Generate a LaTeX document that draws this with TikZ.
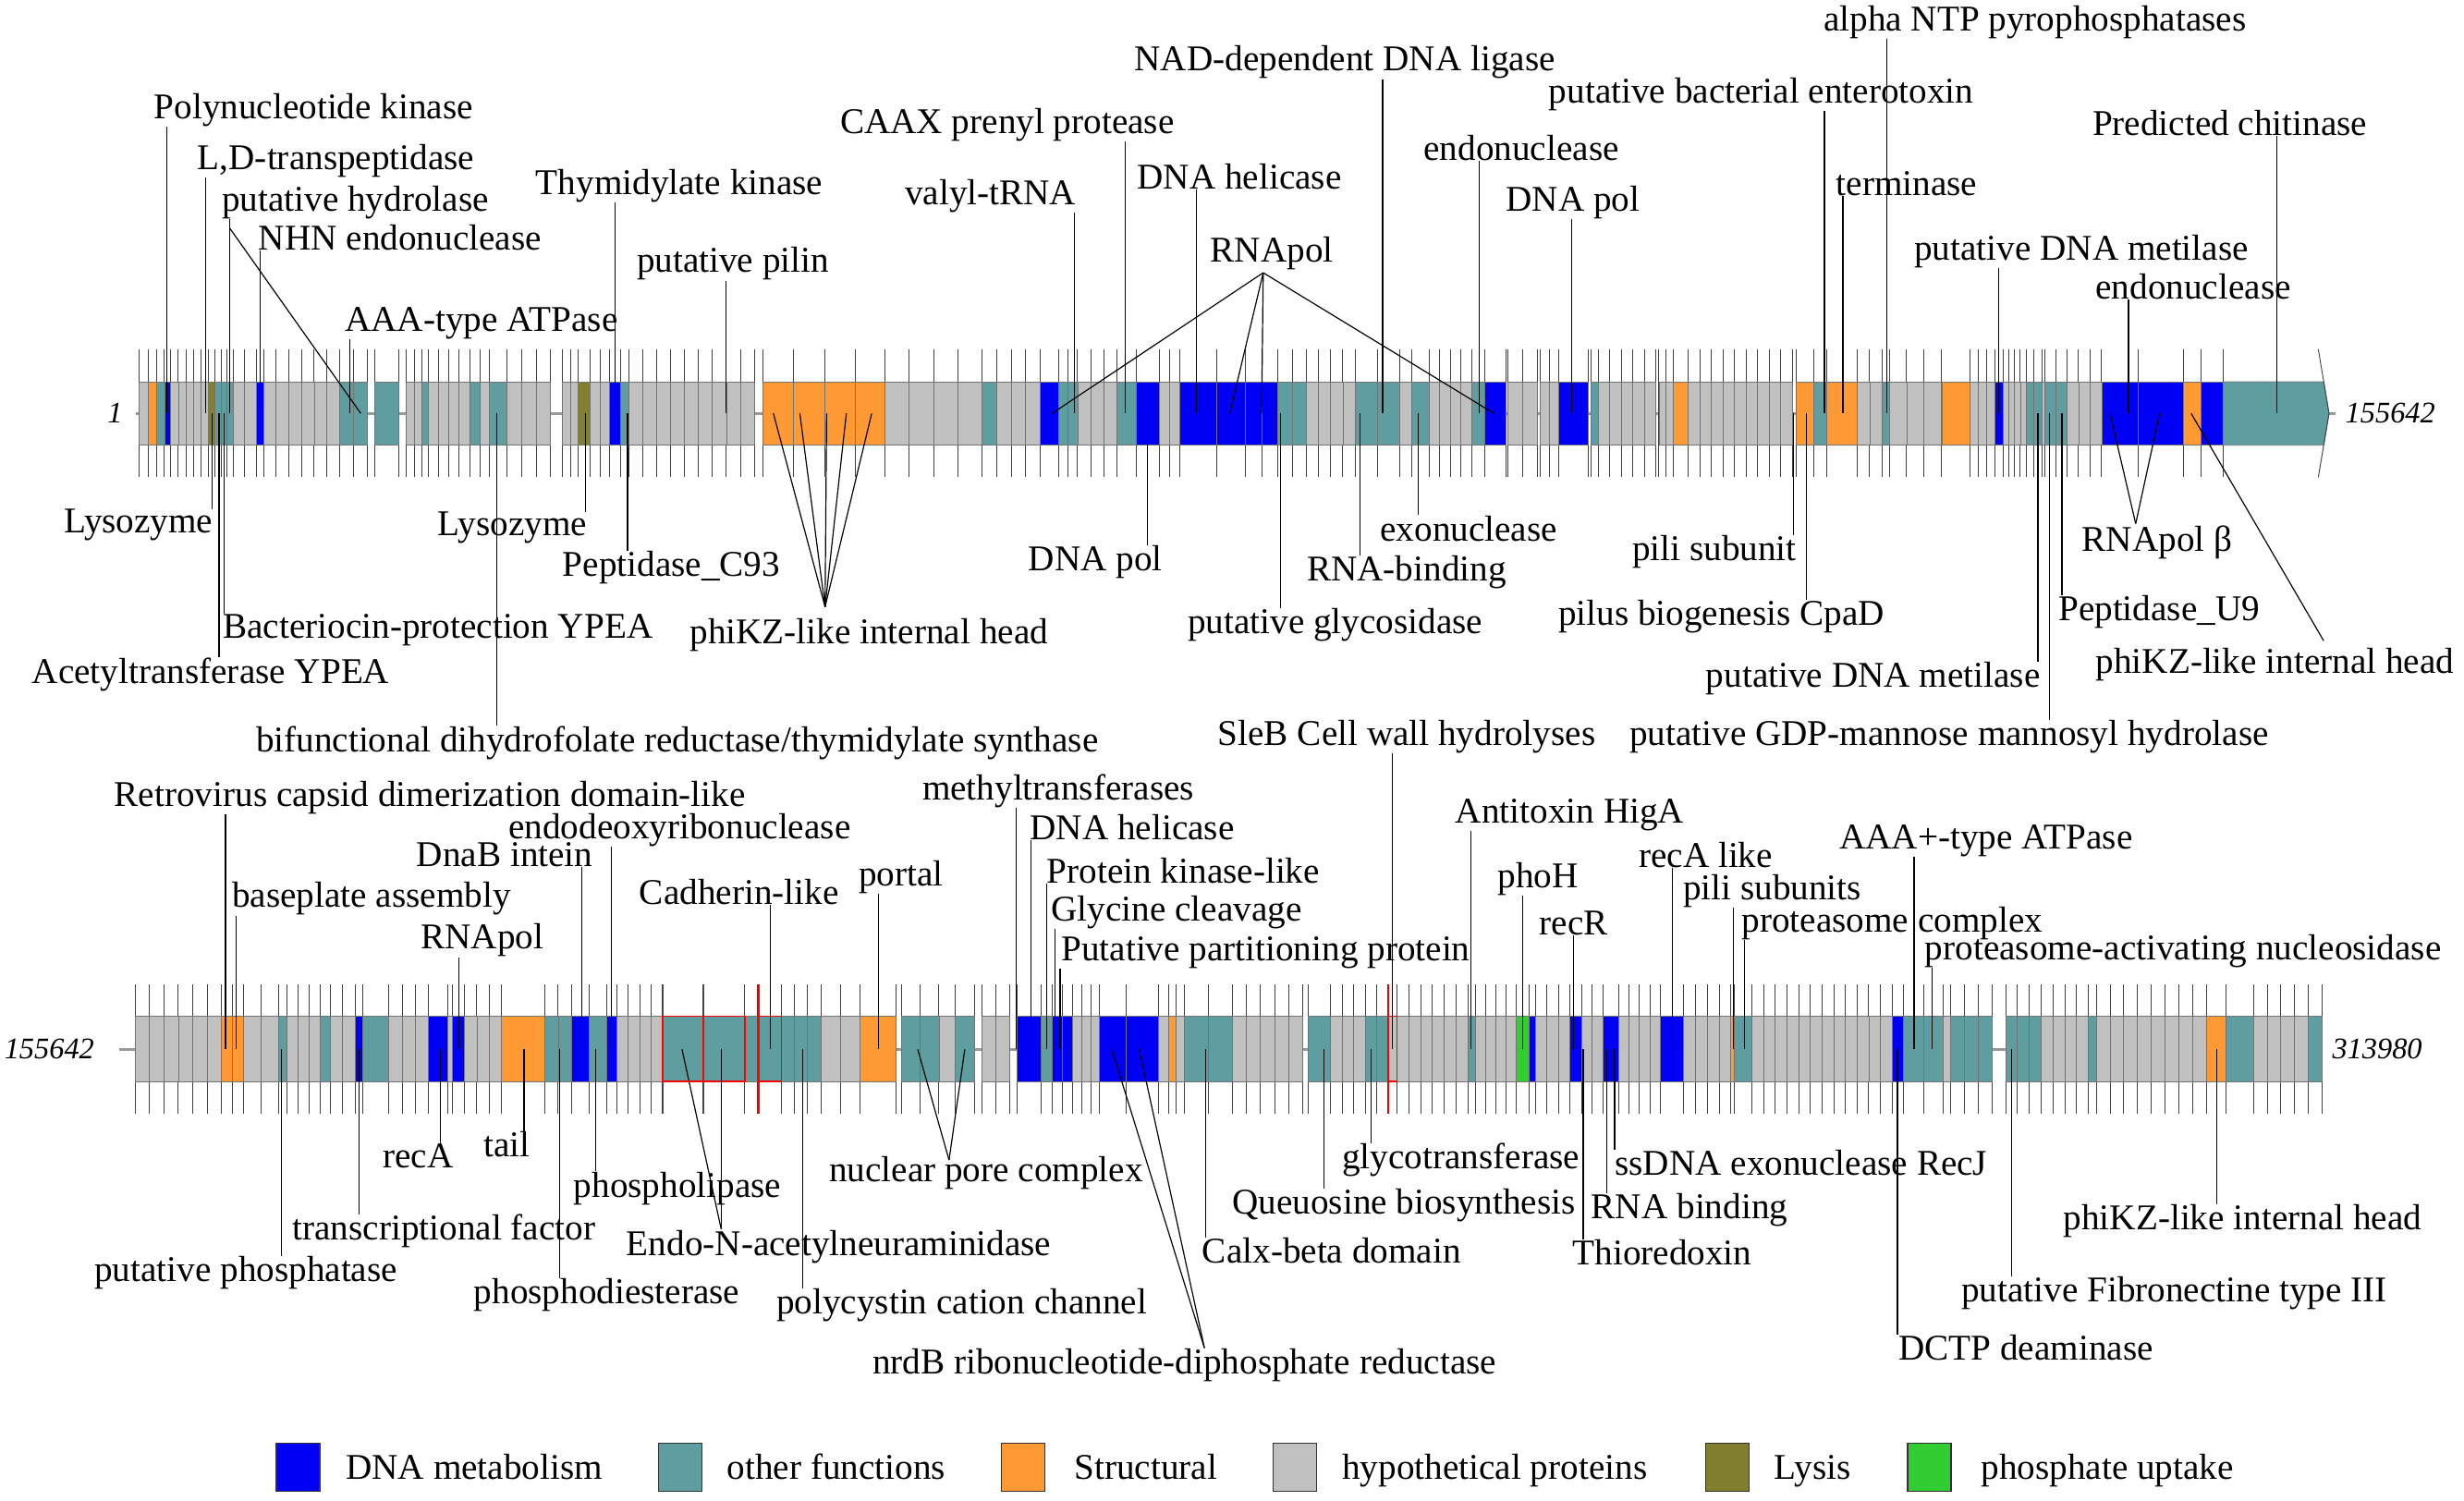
\documentclass[tikz,border=0pt]{standalone}
\usepackage{fontspec}
\setmainfont{Liberation Serif}
\definecolor{dnaB}{RGB}{0,0,245}
\definecolor{othT}{RGB}{95,158,160}
\definecolor{strO}{RGB}{255,153,51}
\definecolor{hypG}{RGB}{192,192,192}
\definecolor{lysL}{RGB}{128,128,48}
\definecolor{phoP}{RGB}{50,205,50}
\tikzset{
  lab/.style={font=\fontsize{23}{27}\selectfont, inner sep=0pt, anchor=base west},
  num/.style={font=\fontsize{19}{22}\selectfont\itshape, inner sep=0pt},
  lead/.style={line width=0.7pt, black},
  tick/.style={line width=0.55pt, black!75},
  gene/.style={draw=black!55, line width=0.5pt},
  axis/.style={line width=1.6pt, black!40},
  redgene/.style={draw=red, line width=0.8pt},
  legbox/.style={draw=black!80, line width=0.8pt, minimum width=27.5pt, minimum height=30.3pt, inner sep=0pt}
}
\begin{document}
\begin{tikzpicture}[x=1pt,y=-1pt]
\path[use as bounding box, fill=white] (0,0) rectangle (1564,952.7);
\def\cA{262.4}
\def\cB{666}
\def\genesA{88/94.3/hypG/1, 94.3/99.3/strO/1, 99.3/104.4/othT/1, 104.4/108.4/dnaB/1,
108.4/132.3/hypG/5, 132.3/136.4/lysL/1, 136.4/148/othT/3, 148/162.6/hypG/2,
162.6/167.3/dnaB/1, 167.3/215.5/hypG/6, 215.5/233.3/othT/2, 238/253/othT/1,
258/268/hypG/2, 268/272/othT/1, 272/298/hypG/4, 298/305/othT/1, 305/310.5/hypG/1,
310.5/322/othT/1, 322/349.5/hypG/3, 357/367/hypG/2, 367/374.7/lysL/1, 374.7/387/hypG/2,
387/394/dnaB/1, 394/399/othT/1, 399/478.8/hypG/9, 484/543/strO/3, 543/561.8/strO/1,
561.8/623.4/hypG/4, 623.4/632.5/othT/1, 632.5/660.4/hypG/3, 660.4/671.9/dnaB/1,
671.9/684/othT/2, 684/709/hypG/3, 709/721.3/othT/1, 721.3/735.8/dnaB/1,
735.8/748.6/hypG/2, 748.6/772.2/dnaB/1, 772.2/790.7/dnaB/1, 790.7/800.8/dnaB/1,
800.8/811/dnaB/1, 811/829.4/othT/2, 829.4/860/hypG/4, 860/888.4/othT/2,
888.4/896/hypG/1, 896/907/othT/1, 907/934/hypG/4, 934/942.2/othT/1,
942.2/955.7/dnaB/1, 957/976/hypG/2, 977.6/989.4/hypG/2, 989.4/1008/dnaB/1,
1009.6/1014.6/othT/1, 1014.6/1051/hypG/5, 1053/1062.3/hypG/2, 1062.3/1071.5/strO/1,
1071.5/1137.6/hypG/9, 1140.3/1151/strO/1, 1151/1159.6/othT/1, 1159.6/1179/strO/1,
1179/1194.5/hypG/2, 1194.5/1199.3/othT/1, 1199.3/1232/hypG/3, 1232.5/1250.5/strO/1,
1250.5/1266.4/hypG/3, 1266.4/1271.5/dnaB/1, 1271.5/1286/hypG/4, 1286/1296/othT/2,
1296/1298/hypG/1, 1298/1312/othT/2, 1312/1334/hypG/3, 1334/1357/dnaB/1,
1357/1385.7/dnaB/1, 1385.7/1397/strO/1, 1397/1411/dnaB/1}
\def\genesB{85.8/140.6/hypG/6, 140.6/154.6/strO/2, 154.6/177/hypG/2, 177/182/othT/1,
182/203.5/hypG/3, 203.5/209.5/othT/1, 209.5/225.4/hypG/2, 225.4/230.4/dnaB/1,
230.4/246.9/othT/1, 246.9/271.8/hypG/3, 271.8/284.3/dnaB/1, 284.3/287/hypG/1,
287/295/dnaB/1, 295/318/hypG/3, 318/345.6/strO/1, 345.6/363/othT/2, 363/374/dnaB/1,
374/385/othT/1, 385/391.5/dnaB/1, 391.5/420.4/hypG/4, 420.4/446.3/othT/1,
446.3/472.8/othT/1, 472.8/481/othT/1, 481/496/othT/1, 496/521/othT/3,
521/546/hypG/2, 546/568.5/strO/1, 572.5/596/othT/2, 596/606/hypG/1,
606/618.4/othT/1, 623.4/640.8/hypG/2, 645.8/660.8/dnaB/1, 660.8/668/othT/1,
668/680.7/dnaB/2, 680.7/698/hypG/3, 698/715/dnaB/1, 715/735.6/dnaB/1,
735.6/741.6/hypG/1, 741.6/746.5/strO/1, 746.5/752/hypG/1, 752/782/othT/2,
782/827/hypG/5, 830.4/844.3/othT/1, 844.3/866.8/hypG/3, 866.8/880.7/othT/2,
880.7/886.7/hypG/1, 886.7/931.6/hypG/6, 931.6/936.6/othT/1, 936.6/962.5/hypG/4,
962.5/970.5/phoP/1, 970.5/974.5/dnaB/1, 974.5/996.4/hypG/3, 996.4/1004/dnaB/1,
1004/1017.4/hypG/2, 1017.4/1027.4/dnaB/1, 1027.4/1053.8/hypG/4, 1053.8/1068.8/dnaB/1,
1068.8/1098.7/hypG/4, 1098.7/1101/strO/1, 1101/1112/othT/1, 1112/1201/hypG/12,
1201/1208.4/dnaB/1, 1208.4/1233.3/othT/2, 1233.3/1238.3/hypG/1, 1238.3/1264.7/othT/3,
1273/1295.6/othT/3, 1295.6/1325.6/hypG/4, 1325.6/1330.6/othT/1, 1330.6/1400.4/hypG/8,
1400.4/1413/strO/1, 1413/1430.3/othT/1, 1430.3/1465.2/hypG/4, 1465.2/1473.7/othT/1}

\node[num] (startA) at (73,\cA) {1};
\node[num, anchor=west] (endA) at (1488.5,\cA) {155642};
\node[num, anchor=east] (startB) at (60,\cB) {155642};
\node[num, anchor=west] (endB) at (1480.2,\cB) {313980};
\coordinate (axA0) at (86,\cA);
\coordinate (axA1) at (1482.4,\cA);
\coordinate (axB0) at (75.8,\cB);
\coordinate (axB1) at (1473.7,\cB);
\draw[axis] (axA0) -- (axA1);
\draw[axis] (axB0) -- (axB1);

\foreach \xa/\xb/\col/\nn in \genesA {
  \pgfmathsetmacro\gw{(\xb-\xa)/\nn}
  \foreach \k in {1,...,\nn}
    \draw[tick] (\xa+\k*\gw-\gw,221.6) -- (\xa+\k*\gw-\gw,303);
  \draw[tick] (\xb,221.6) -- (\xb,303);
}
\foreach \xa/\xb/\col/\nn in \genesA {
  \pgfmathsetmacro\gw{(\xb-\xa)/\nn}
  \foreach \k in {1,...,\nn}
    \draw[gene, fill=\col] (\xa+\k*\gw-\gw,242.3) rectangle (\xa+\k*\gw,282.6);
}
\draw[tick] (1411,221.6) -- (1411,303);
\draw[gene, fill=othT] (1411,242.3) -- (1475,242.3) -- (1478.3,\cA) -- (1475,282.6) -- (1411,282.6) -- cycle;
\draw[tick] (1471.5,221.6) -- (1478.3,\cA) -- (1471.5,303);

\foreach \xa/\xb/\col/\nn in \genesB {
  \pgfmathsetmacro\gw{(\xb-\xa)/\nn}
  \foreach \k in {1,...,\nn}
    \draw[tick] (\xa+\k*\gw-\gw,624.8) -- (\xa+\k*\gw-\gw,707);
  \draw[tick] (\xb,624.8) -- (\xb,707);
}
\foreach \xa/\xb/\col/\nn in \genesB {
  \pgfmathsetmacro\gw{(\xb-\xa)/\nn}
  \foreach \k in {1,...,\nn}
    \draw[gene, fill=\col] (\xa+\k*\gw-\gw,645) rectangle (\xa+\k*\gw,686.4);
}
\foreach \xa/\xb in {420.4/446.3, 446.3/472.8, 481/496, 880.7/886.7} {
  \draw[redgene] (\xa+0.6,624.8) -- (\xa+0.6,707);
  \draw[redgene] (\xa,645) rectangle (\xb,686.4);
}

\foreach \nm/\x/\y/\g/\txt in {pnk/97.6/75.3/106.1/Polynucleotide kinase,
  ldt/125.3/107.6/130.3/{L,D-transpeptidase}, phyd/140.7/134/145.8/putative hydrolase,
  nhn/164/158.4/165/NHN endonuclease, aaa/218.8/210.3/222.2/AAA-type ATPase,
  tmk/340/123.2/390.6/Thymidylate kinase, pil/404/173/460.6/putative pilin,
  caax/533.1/84.5/714.3/CAAX prenyl protease, val/574.2/130/682/valyl-tRNA,
  nad/720/45/877.6/NAD-dependent DNA ligase, hel/721.7/119.7/759.4/DNA helicase,
  endo/903.5/101.7/938.9/endonuclease, pol/955.7/134/997.8/DNA pol,
  ent/983/65.5/1158/putative bacterial enterotoxin, ntp/1157.3/19.6/1197.6/alpha NTP pyrophosphatases,
  ter/1165.4/124.2/1169.8/terminase, chi/1328/85.7/1445/Predicted chitinase,
  met/1214.9/165.3/1268.8/putative DNA metilase, endoB/1330/189.7/1351/endonuclease}{
  \node[lab] (\nm) at (\x,\y) {\txt};
  \coordinate (g\nm) at (\g,\cA);
  \draw[lead] (g\nm) -- (g\nm |- \nm.south);
}
\foreach \nm/\x/\y/\g/\txt in {lysA/40.4/338.3/134.7/Lysozyme,
  bac/141.4/404.8/142.4/Bacteriocin-protection YPEA, act/20.2/433.7/139/Acetyltransferase YPEA,
  lysB/277.8/340.2/371.4/Lysozyme, c93/357/365.7/398.3/Peptidase\_C93,
  dhfr/162.3/477.2/315.5/{bifunctional dihydrofolate reductase/thymidylate synthase},
  polB/652.7/362.2/728.4/DNA pol, gly/753.7/401.9/812.6/putative glycosidase,
  rnab/829.4/368.6/863.1/RNA-binding, exo/875.9/343.2/900.1/exonuclease,
  pili/1035.9/355.9/1138.3/pili subunit, cpad/989/397/1146.7/pilus biogenesis CpaD,
  metB/1082.7/436.1/1293.5/putative DNA metilase,
  gdp/1034.2/473.2/1301/putative GDP-mannose mannosyl hydrolase,
  u9/1306.4/394/1308.8/Peptidase\_U9}{
  \node[lab] (\nm) at (\x,\y) {\txt};
  \coordinate (g\nm) at (\g,\cA);
  \draw[lead] (g\nm) -- (g\nm |- \nm.north);
}
\coordinate (hphyd) at (145.8,144.8);
\coordinate (gphydB) at (229,\cA);
\draw[lead] (hphyd) -- (gphydB);

\node[lab] (rnap) at (768.2,166.3) {RNApol};
\coordinate (hrnap) at (801.8,173.1);
\foreach \g [count=\i] in {667.8,780.6,800.8,948.3}{
  \coordinate (grnap\i) at (\g,\cA);
  \draw[lead] (hrnap) -- (grnap\i);
}
\node[lab] (headA) at (437.7,408.7) {phiKZ-like internal head};
\coordinate (hheadA) at (523.7,385.2);
\foreach \g [count=\i] in {490.9,507.7,524.7,537.2,553.3}{
  \coordinate (gheadA\i) at (\g,\cA);
  \draw[lead] (hheadA) -- (gheadA\i);
}
\node[lab] (rnapb) at (1321.3,350) {RNApol β};
\coordinate (hrnapb) at (1355.6,332.4);
\foreach \g [count=\i] in {1339.3,1370.8}{
  \coordinate (grnapb\i) at (\g,\cA);
  \draw[lead] (hrnapb) -- (grnapb\i);
}
\node[lab] (headB) at (1330.1,427.3) {phiKZ-like internal head};
\coordinate (hheadB) at (1474.9,406.7);
\coordinate (gheadB) at (1390.8,\cA);
\draw[lead] (hheadB) -- (gheadB);

\foreach \nm/\x/\y/\g/\txt in {retro/72.4/512/143.1/Retrovirus capsid dimerization domain-like,
  edr/322.6/532.3/388.2/endodeoxyribonuclease, dnab/264.3/549.9/369.4/DnaB intein,
  base/147.1/576/149.8/baseplate assembly, cad/405.7/574/489.2/Cadherin-like,
  rnapC/267/602.4/291.2/RNApol, mtf/585.3/507.5/644.9/methyltransferases,
  helB/653.7/532.9/654.3/DNA helicase, pkl/664.4/560.3/664.4/Protein kinase-like,
  glyc/667.1/584.7/669.5/Glycine cleavage, ppp/673.5/609.8/672.9/Putative partitioning protein,
  portal/545/562.3/557.7/portal, sleb/772.9/472.9/884/SleB Cell wall hydrolyses,
  higa/923.7/522.2/933.8/Antitoxin HigA, phoh/950.6/563.2/966.5/phoH,
  recr/976.9/593.5/998.8/recR, recal/1040/550.5/1061.3/recA like,
  pilis/1068.1/571/1100.3/pili subunits, prc/1105.4/591.6/1107.1/proteasome complex,
  aaap/1167.4/538.8/1214.9/AAA+-type ATPase,
  pan/1221.7/609.2/1226.4/proteasome-activating nucleosidase}{
  \node[lab] (\nm) at (\x,\y) {\txt};
  \coordinate (g\nm) at (\g,\cB);
  \draw[lead] (g\nm) -- (g\nm |- \nm.south);
}
\foreach \nm/\x/\y/\g/\txt in {reca/242.9/741.5/279.3/recA, tail/306.7/734.3/332.6/tail,
  plip/364/759.7/378/phospholipase, tf/185.5/787.1/227.9/transcriptional factor,
  pph/59.8/813.5/178.5/putative phosphatase, pde/300.7/827.2/355.1/phosphodiesterase,
  pcc/492.7/834/509.7/polycystin cation channel, calx/763/801.8/765.5/Calx-beta domain,
  queu/782/770.5/840.3/Queuosine biosynthesis, glyt/851.8/742.1/870.3/glycotransferase,
  recj/1024.9/746/1024.9/ssDNA exonuclease RecJ, rnabB/1009.9/773.4/1019.9/RNA binding,
  thio/998/802.8/1004.9/Thioredoxin, dctp/1204.9/863.4/1204.4/DCTP deaminase,
  fib/1244.8/826.2/1276.7/putative Fibronectine type III,
  headC/1309.6/780.3/1406.9/phiKZ-like internal head}{
  \node[lab] (\nm) at (\x,\y) {\txt};
  \coordinate (g\nm) at (\g,\cB);
  \draw[lead] (g\nm) -- (g\nm |- \nm.north);
}
\node[lab] (endon) at (397.5,796.9) {Endo-N-acetylneuraminidase};
\coordinate (hendon) at (457.8,780.3);
\foreach \g [count=\i] in {432.9,457.8}{
  \coordinate (gendon\i) at (\g,\cB);
  \draw[lead] (hendon) -- (gendon\i);
}
\node[lab] (npc) at (526.1,750) {nuclear pore complex};
\coordinate (hnpc) at (602.4,736.3);
\foreach \g [count=\i] in {582.5,612.4}{
  \coordinate (gnpc\i) at (\g,\cB);
  \draw[lead] (hnpc) -- (gnpc\i);
}
\node[lab] (nrdb) at (553.6,872.2) {nrdB ribonucleotide-diphosphate reductase};
\coordinate (hnrdb) at (764.5,855.6);
\foreach \g [count=\i] in {705.7,723.1}{
  \coordinate (gnrdb\i) at (\g,\cB);
  \draw[lead] (hnrdb) -- (gnrdb\i);
}

\foreach \bx/\tx/\col/\txt in {175.5/219.4/dnaB/DNA metabolism, 418/461.3/othT/other functions,
  635.8/681.7/strO/Structural, 808/851.8/hypG/hypothetical proteins,
  1082.7/1126.1/lysL/Lysis, 1210.9/1257.3/phoP/phosphate uptake}{
  \node[legbox, fill=\col] (key\col) at (\bx+13.75,931.35) {};
  \node[lab] (txt\col) at (\tx,938.7) {\txt};
}
\end{tikzpicture}
\end{document}
